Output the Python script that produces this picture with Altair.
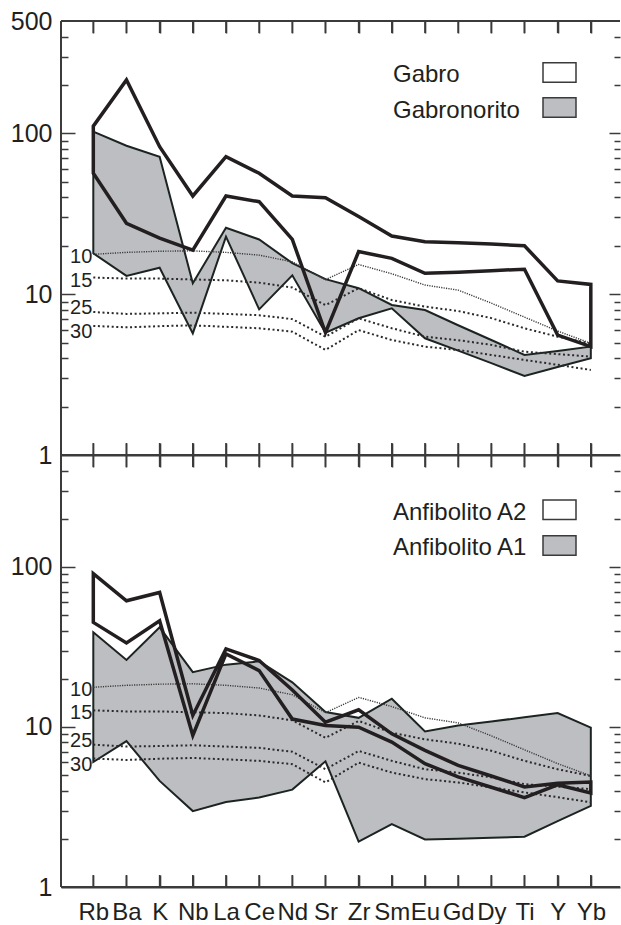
import json

import altair as alt
import pandas as pd

# Element order of the spider diagram
ELEMENTS = ["Rb", "Ba", "K", "Nb", "La", "Ce", "Nd", "Sr",
            "Zr", "Sm", "Eu", "Gd", "Dy", "Ti", "Y", "Yb"]

# Upper panel: normalised concentration fields
GABRO_HI = [111, 215, 82.7, 40.8, 71.6, 56.5, 40.8, 39.8,
            30.4, 23.0, 21.2, 20.9, 20.5, 20.0, 12.1, 11.5]
GABRO_LO = [56.5, 27.6, 22.3, 18.8, 40.8, 37.6, 21.9, 5.76,
            18.4, 16.7, 13.5, 13.7, 14.0, 14.3, 5.57, 4.72]
GABRONORITO_HI = [102.5, 83.8, 71.6, 11.7, 25.9, 21.9, 15.6, 12.4,
                  10.9, 8.57, 7.97, 6.41, 5.19, 4.19, 4.43, 4.72]
GABRONORITO_LO = [17.96, 13.0, 14.6, 5.71, 22.8, 8.05, 13.1, 5.76,
                  7.08, 8.17, 5.32, 4.46, 3.73, 3.10, 3.53, 4.0]

# Lower panel: normalised concentration fields
ANF_A2_HI = [90.8, 61.4, 69.2, 11.8, 30.7, 26.0, 17.0, 10.7,
             12.8, 9.06, 7.14, 5.75, 4.94, 4.22, 4.45, 4.53]
ANF_A2_LO = [45.0, 33.5, 46.1, 8.85, 28.6, 22.5, 11.2, 10.2,
             9.97, 8.04, 5.9, 4.87, 4.2, 3.62, 4.35, 3.87]
ANF_A1_HI = [39.0, 26.2, 41.9, 22.0, 24.5, 25.7, 19.0, 12.4,
             11.4, 15.0, 9.38, 10.2, 10.8, 11.5, 12.2, 9.89]
ANF_A1_LO = [6.04, 8.16, 4.6, 2.98, 3.40, 3.62, 4.06, 6.1,
             1.92, 2.47, 1.98, 2.0, 2.03, 2.06, 2.58, 3.21]

# Partial-melting model curves (percent melting)
MELT_LABELS = ["10", "15", "25", "30"]
MELT_10 = [17.7, 18.2, 18.5, 18.6, 18.2, 17.5, 15.9, 12.3,
           15.3, 13.4, 11.4, 10.6, 8.8, 7.2, 5.9, 4.95]
MELT_15 = [12.7, 12.5, 12.5, 12.35, 12.2, 11.8, 11.0, 8.55,
           10.9, 9.2, 8.37, 7.86, 7.1, 6.14, 5.44, 4.94]
MELT_25 = [7.75, 7.54, 7.6, 7.68, 7.54, 7.4, 7.0, 5.44,
           7.08, 6.14, 5.44, 5.18, 4.84, 4.39, 4.24, 4.09]
MELT_30 = [6.35, 6.22, 6.33, 6.4, 6.27, 6.14, 5.85, 4.5,
           5.98, 5.19, 4.72, 4.5, 4.19, 3.9, 3.64, 3.38]

# Axis values
Y_MIN, Y_MAX = 1, 500
TOP_LABELS = [1, 10, 100, 500]
BOTTOM_LABELS = [1, 10, 100]
LOG_TICKS = [2, 3, 4, 5, 6, 7, 8, 9, 10,
             20, 30, 40, 50, 60, 70, 80, 90, 100,
             200, 300, 400]

# Styling
FONT = "Liberation Sans"
INK = "#231f20"
FRAME = "#3b3b3b"
GREY = "#bdbec2"
W = 559
H_TOP = 434
H_BOTTOM = 432
X_TICK = 12

# element slots sit at integer positions, with almost one slot of margin each side
x_scale = alt.Scale(domain=[-0.974, 15.88], nice=False, zero=False)
y_scale = alt.Scale(type="log", domain=[Y_MIN, Y_MAX], nice=False)
POSITIONS = list(range(len(ELEMENTS)))


def band(hi, lo):
    return pd.DataFrame({"i": POSITIONS, "elem": ELEMENTS, "hi": hi, "lo": lo})


curve_rows = []
for name, vals in zip(MELT_LABELS, [MELT_10, MELT_15, MELT_25, MELT_30]):
    for k, v in enumerate(vals):
        curve_rows.append({"i": k, "elem": ELEMENTS[k], "curve": name, "value": v})
curves = pd.DataFrame(curve_rows)
elements_df = pd.DataFrame({"i": POSITIONS, "elem": ELEMENTS})


def x_enc(axis):
    return alt.X("i:Q", scale=x_scale, axis=axis, title=None)


def edge_x_axis(offset, show_line):
    # upward-pointing element ticks, shifted down into the frame
    return alt.Axis(orient="top", offset=offset, values=POSITIONS, labels=False,
                    ticks=True, tickSize=X_TICK, tickWidth=1.6, tickColor=FRAME,
                    domain=True, domainColor=FRAME, domainWidth=2,
                    domainOpacity=1 if show_line else 0, grid=False, title=None)


def label_x_axis():
    return alt.Axis(orient="bottom", values=POSITIONS, ticks=False, tickSize=0,
                    domain=False, grid=False,
                    labelExpr=json.dumps(ELEMENTS) + "[datum.value]",
                    labelFont=FONT, labelFontSize=24, labelColor=INK,
                    labelPadding=13, labelAngle=0, labelFlush=False,
                    labelOverlap=False, title=None)


def label_y_axis(values):
    return alt.Axis(orient="left", values=values, ticks=False, tickSize=0,
                    domain=False, grid=False, labelExpr="'' + datum.value",
                    labelFont=FONT, labelFontSize=25, labelColor=INK,
                    labelPadding=9, labelFlush=False, labelOverlap=False,
                    title=None)


def tick_y_axis(orient, major, minor):
    # inward log ticks: long at decades, short in between
    return alt.Axis(orient=orient, offset=-W, values=LOG_TICKS, labels=False,
                    tickSize={"condition": {"test": "datum.value === 10 || datum.value === 100",
                                            "value": major},
                              "value": minor},
                    tickWidth=1.5, tickColor=FRAME, domain=False,
                    grid=False, title=None)


def frame_lines(height):
    one = pd.DataFrame({"f": [0]})
    style = dict(color=FRAME, strokeWidth=2)
    top_edge = alt.Chart(one).mark_rule(**style).encode(
        x=alt.value(0), x2=alt.value(W), y=alt.value(0))
    bottom_edge = alt.Chart(one).mark_rule(**style).encode(
        x=alt.value(0), x2=alt.value(W), y=alt.value(height))
    left_edge = alt.Chart(one).mark_rule(**style).encode(
        x=alt.value(0), y=alt.value(0), y2=alt.value(height))
    # inward element ticks anchored on the scale limits (short vertical strokes)
    down = dict(shape="M0,0L0,2", size=X_TICK * X_TICK, filled=False,
                stroke=FRAME, strokeWidth=1.6, opacity=1)
    up = dict(down, shape="M0,0L0,-2")
    ticks_top = alt.Chart(elements_df).mark_point(**down).encode(
        x=x_enc(None), y=alt.datum(Y_MAX, scale=y_scale, axis=None))
    ticks_bottom = alt.Chart(elements_df).mark_point(**up).encode(
        x=x_enc(None), y=alt.datum(Y_MIN, scale=y_scale, axis=None))
    return [top_edge, bottom_edge, left_edge, ticks_top, ticks_bottom]


def legend_entry(label, fill, text_y, box_y):
    df = pd.DataFrame({"label": [label]})
    txt = alt.Chart(df).mark_text(
        align="left", baseline="alphabetic", font=FONT, fontSize=24, color=INK
    ).encode(text="label:N", x=alt.value(332), y=alt.value(text_y))
    box = alt.Chart(df).mark_rect(
        fill=fill, stroke="#3a3a3a", strokeWidth=1.5
    ).encode(x=alt.value(482), x2=alt.value(515),
             y=alt.value(box_y), y2=alt.value(box_y + 19.5))
    return [txt, box]


def curve_layers(bottom_axis):
    coarse = alt.Chart(curves[curves.curve != "10"]).mark_line(
        strokeDash=[2, 2.6], strokeWidth=2, color="#2a2a2a"
    ).encode(x=x_enc(bottom_axis),
             y=alt.Y("value:Q", scale=y_scale, axis=None),
             detail="curve:N", order="i:Q")
    fine = alt.Chart(curves[curves.curve == "10"]).mark_line(
        strokeDash=[1.2, 1.2], strokeWidth=1.4, color="#3a3a3a"
    ).encode(x=x_enc(None), y=alt.Y("value:Q", scale=y_scale, axis=None),
             order="i:Q")
    return [coarse, fine]


def curve_labels():
    start = curves[curves.i == 0]
    layers = []
    for names, dy in [(["10", "15"], 3), (["25"], -4), (["30"], 6)]:
        layers.append(
            alt.Chart(start[start.curve.isin(names)]).mark_text(
                align="right", baseline="middle", dx=-1, dy=dy,
                font=FONT, fontSize=20, color=INK
            ).encode(x=x_enc(None),
                     y=alt.Y("value:Q", scale=y_scale, axis=None),
                     text="curve:N")
        )
    return layers


def panel(height, outline_df, grey_df, label_values, legend, with_labels, guard):
    layers = []
    if guard:
        layers.append(
            alt.Chart(pd.DataFrame({"g": [0]})).mark_rect(fill="white").encode(
                x=alt.value(-61), x2=alt.value(-60),
                y=alt.value(-21), y2=alt.value(-20))
        )
    layers.append(
        alt.Chart(outline_df).mark_area(fill="white", opacity=1).encode(
            x=x_enc(edge_x_axis(-X_TICK, False)),
            y=alt.Y("hi:Q", scale=y_scale, axis=label_y_axis(label_values)),
            y2="lo:Q")
    )
    layers.append(
        alt.Chart(grey_df).mark_area(
            fill=GREY, opacity=1, stroke="#1c2421", strokeWidth=2,
            strokeJoin="miter"
        ).encode(
            x=x_enc(edge_x_axis(-height, True)),
            y=alt.Y("hi:Q", scale=y_scale, axis=tick_y_axis("right", 14, 7)),
            y2="lo:Q")
    )
    layers += curve_layers(label_x_axis() if with_labels else None)
    layers.append(
        alt.Chart(outline_df).mark_area(
            fillOpacity=0, stroke=INK, strokeWidth=3.5, strokeJoin="miter"
        ).encode(
            x=x_enc(None),
            y=alt.Y("hi:Q", scale=y_scale, axis=tick_y_axis("left", 11, 6)),
            y2="lo:Q")
    )
    layers += curve_labels()
    layers += frame_lines(height)
    layers += legend
    return alt.layer(*layers).resolve_axis(x="independent", y="independent").properties(
        width=W, height=height)


top = panel(
    H_TOP, band(GABRO_HI, GABRO_LO), band(GABRONORITO_HI, GABRONORITO_LO),
    TOP_LABELS,
    legend_entry("Gabro", "white", 61, 41.7) + legend_entry("Gabronorito", GREY, 96.7, 76.7),
    with_labels=False, guard=True)

bottom = panel(
    H_BOTTOM, band(ANF_A2_HI, ANF_A2_LO), band(ANF_A1_HI, ANF_A1_LO),
    BOTTOM_LABELS,
    legend_entry("Anfibolito A2", "white", 65, 45) + legend_entry("Anfibolito A1", GREY, 100, 80.7),
    with_labels=True, guard=False)

chart = alt.vconcat(top, bottom, spacing=0, bounds="flush").configure_view(
    strokeWidth=0
).properties(padding=0)

chart.save("out.html", embed_options={"renderer": "svg", "actions": False})
